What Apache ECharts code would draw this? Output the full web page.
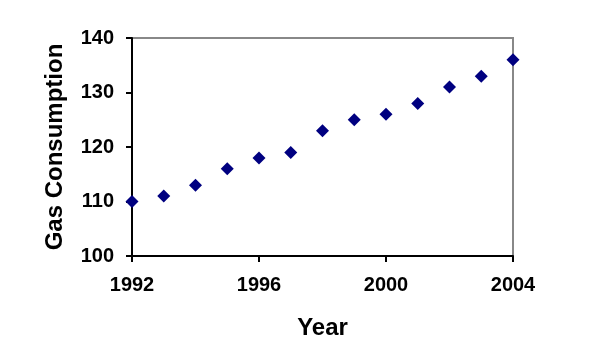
<!DOCTYPE html>
<html>
<head>
<meta charset="utf-8">
<script src="https://cdn.jsdelivr.net/npm/echarts@6/dist/echarts.min.js"></script>
<style>html,body{margin:0;padding:0;background:#fff}#c{width:596px;height:362px}</style>
</head>
<body>
<div id="c"></div>
<script>
const years = [1992, 1993, 1994, 1995, 1996, 1997, 1998, 1999, 2000, 2001, 2002, 2003, 2004];
const gasConsumption = [110, 111, 113, 116, 118, 119, 123, 125, 126, 128, 131, 133, 136];
const xTicks = [1992, 1996, 2000, 2004];
const yTicks = [100, 110, 120, 130, 140];

const chart = echarts.init(document.getElementById('c'), null, {renderer: 'canvas'});
const font = {fontFamily: 'Liberation Sans, Arial, sans-serif', fontWeight: 'bold', fontSize: 20, color: '#000'};
chart.setOption({
  animation: false,
  grid: {left: 132, top: 38, right: 83, bottom: 106, show: true, borderColor: '#888', borderWidth: 2, backgroundColor: '#fff'},
  xAxis: {
    type: 'value', min: xTicks[0], max: xTicks[xTicks.length - 1], interval: 4,
    name: 'Year', nameLocation: 'middle', nameGap: 60,
    nameTextStyle: Object.assign({}, font, {fontSize: 24}),
    axisLine: {show: true, lineStyle: {color: '#000', width: 2}},
    axisTick: {show: true, length: 6, lineStyle: {color: '#000', width: 2}},
    axisLabel: Object.assign({margin: 19, formatter: v => String(v)}, font),
    splitLine: {show: false}
  },
  yAxis: {
    type: 'value', min: yTicks[0], max: yTicks[yTicks.length - 1], interval: 10,
    name: 'Gas Consumption', nameLocation: 'middle', nameGap: 65, nameRotate: 90,
    nameTextStyle: Object.assign({}, font, {fontSize: 24}),
    axisLine: {show: true, lineStyle: {color: '#000', width: 2}},
    axisTick: {show: true, length: 6, lineStyle: {color: '#000', width: 2}},
    axisLabel: Object.assign({margin: 18, formatter: v => String(v)}, font),
    splitLine: {show: false}
  },
  series: [{
    type: 'scatter',
    data: years.map((y, i) => [y, gasConsumption[i]]),
    symbol: 'diamond', symbolSize: 13,
    itemStyle: {color: '#000080', opacity: 1},
    clip: false
  }]
});
</script>
</body>
</html>
